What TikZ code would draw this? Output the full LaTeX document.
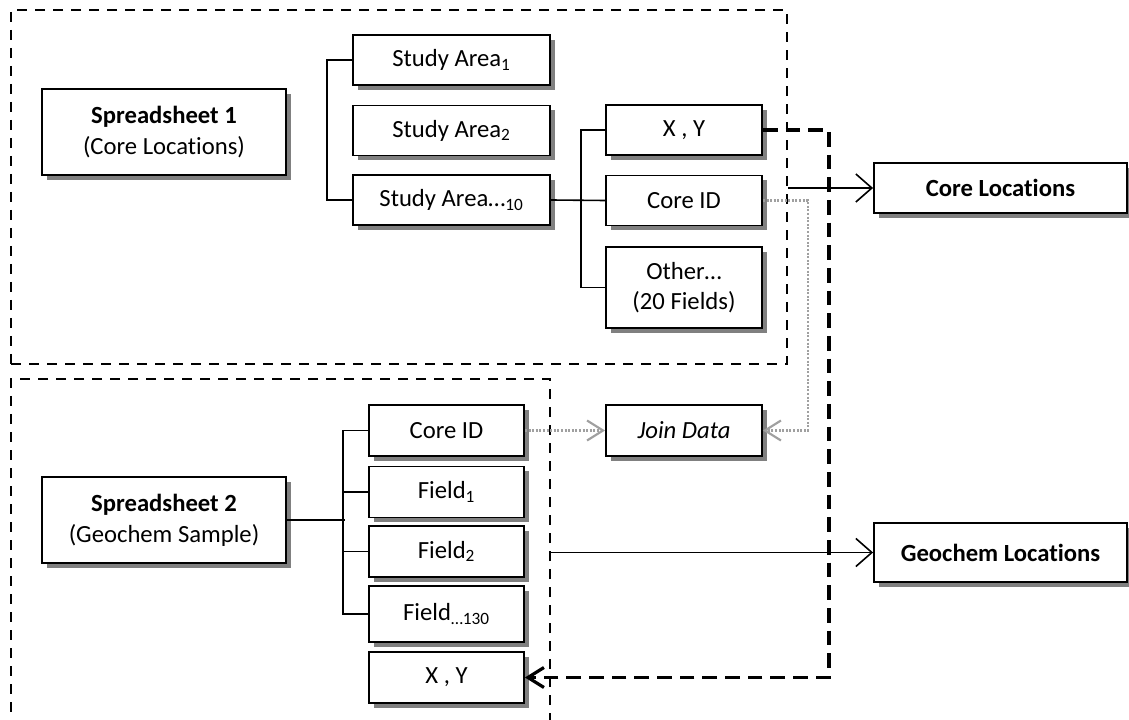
\documentclass[tikz,border=0pt]{standalone}
\usepackage{fontspec}
\setmainfont{Carlito}[Ligatures=NoCommon]
\usetikzlibrary{arrows.meta,shadows}
\definecolor{shadowgray}{HTML}{808080}
\definecolor{joingray}{HTML}{A0A0A0}
\tikzset{
    box/.style={draw, line width=1.4pt, fill=white, inner sep=0pt, align=center,
      font=\fontsize{18.5}{23}\selectfont,
      drop shadow={shadow xshift=3.5pt, shadow yshift=-3.5pt, fill=shadowgray, opacity=1}},
    sheetbox/.style={box, minimum width=183pt, minimum height=64.5pt},
    areabox/.style={box, minimum width=147.75pt, minimum height=37.5pt},
    fieldbox/.style={box, minimum width=117pt, minimum height=37.5pt},
    fieldboxB/.style={box, minimum width=116.25pt, minimum height=38.25pt},
    outbox/.style={box, minimum width=189.75pt, minimum height=37.5pt,
      font=\fontsize{18.5}{23}\selectfont\bfseries},
    groupbox/.style={draw, line width=1.7pt, dash pattern=on 7.5pt off 6pt, inner sep=0pt},
    link/.style={line width=1.2pt},
    tip/.style={-{Straight Barb[length=12pt,width=21pt]}},
    joinlink/.style={draw=joingray, line width=1.6pt, dash pattern=on 1.5pt off 1.2pt,
      -{Straight Barb[length=12pt,width=15pt,line width=1.6pt]}},
    feed/.style={line width=2.4pt, dash pattern=on 11pt off 6pt,
      -{Straight Barb[length=12pt,width=15pt]}},
  }
\begin{document}
\begin{tikzpicture}[x=0.75pt, y=-0.75pt]
				  %cadre fixe 1129x720 (px)
				  \useasboundingbox (0,0) rectangle (1129,720);
				  \clip (0,0) rectangle (1129,720);

				  %groupes
				  \node[groupbox, minimum width=582pt, minimum height=265.5pt] (groupA) at (399,187) {};
				  \node[groupbox, minimum width=404.25pt, minimum height=285.75pt] (groupB) at (280.5,569.5) {};

				  %tableur 1
				  \node[sheetbox] (sheetA) at (164,132) {\textbf{Spreadsheet 1}\\(Core Locations)};
				  \node[areabox] (sa1) at (451.5,60) {Study Area\textsubscript{1}};
				  \node[areabox] (sa2) at (451.5,130.5) {Study Area\textsubscript{2}};
				  \node[areabox] (saN) at (451.5,200) {Study Area…\textsubscript{10}};
				  \node[fieldbox] (xyA) at (684,130) {X , Y};
				  \node[fieldbox] (idA) at (684,200.5) {Core ID};
				  \node[fieldbox, minimum height=60.75pt] (otherA) at (684,287.5) {Other…\\(20 Fields)};
				  \node[outbox] (coreLoc) at (1000.5,188) {Core Locations};

				  %tableur 2
				  \node[sheetbox] (sheetB) at (164,520) {\textbf{Spreadsheet 2}\\(Geochem Sample)};
				  \node[fieldboxB] (idB) at (446.5,430.5) {Core ID};
				  \node[fieldboxB] (f1) at (446.5,492) {Field\textsubscript{1}};
				  \node[fieldboxB] (f2) at (446.5,551.5) {Field\textsubscript{2}};
				  \node[fieldboxB, minimum height=42pt] (fN) at (446.5,614) {Field\textsubscript{…130}};
				  \node[fieldboxB] (xyB) at (446.5,677.5) {X , Y};
				  \node[fieldboxB, minimum width=117pt] (join) at (684,430.5) {\itshape Join Data};
				  \node[outbox, minimum height=44.25pt] (geoLoc) at (1000.5,552.5) {Geochem Locations};

				  %branches
				  \draw[link] (sa1.west) -- ++(-25,0) |- (saN.west);
				  \draw[link] (saN.east) -- (idA.west);
				  \draw[link] (xyA.west) -- ++(-24,0) |- (otherA.west);
				  \draw[link] (sheetB.east) -- ++(58,0);
				  \draw[link] (idB.west) -- ++(-25,0) |- (fN.west);
				  \draw[link] (f1.west) -- ++(-25,0) (f2.west) -- ++(-25,0);

				  %jointure
				  \draw[joinlink] (idB.east) -- (join.west);
				  \draw[joinlink] (idA.east) -- ++(45,0) |- (join.east);
				  \draw[feed] (xyA.east) -- ++(66,0) |- (xyB.east);

				  %sorties
				  \draw[link, tip] (groupA.east |- coreLoc.west) -- (coreLoc.west);
				  \draw[link, tip] (groupB.east |- geoLoc.west) -- (geoLoc.west);
				  \end{tikzpicture}
\end{document}
